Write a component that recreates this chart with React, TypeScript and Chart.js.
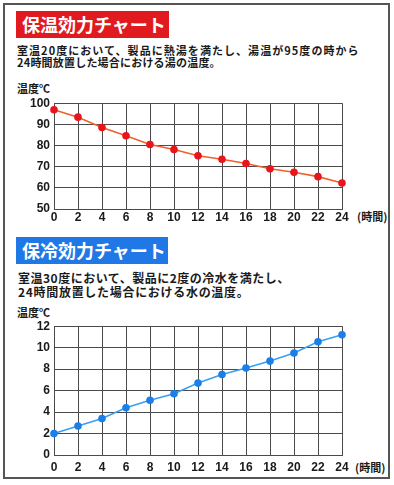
import React, { useEffect, useRef } from "react";
import { Chart, registerables } from "chart.js";

Chart.register(...registerables);

const hours = ["0", "2", "4", "6", "8", "10", "12", "14", "16", "18", "20", "22", "24"];
const hotWaterTemps = [96.9, 93.4, 88.5, 84.6, 80.5, 78.1, 75.2, 73.5, 71.5, 69.0, 67.4, 65.3, 62.3];
const coldWaterTemps = [2.0, 2.7, 3.4, 4.4, 5.1, 5.7, 6.7, 7.5, 8.1, 8.75, 9.5, 10.55, 11.2];

const hotTitle = "保温効力チャート";
const hotText1 = "室温20度において、製品に熱湯を満たし、湯温が95度の時から";
const hotText2 = "24時間放置した場合における湯の温度。";
const coldTitle = "保冷効力チャート";
const coldText1 = "室温30度において、製品に2度の冷水を満たし、";
const coldText2 = "24時間放置した場合における水の温度。";
const yUnit = "温度℃";
const xUnit = "(時間)";

const tickFont = { family: "'Liberation Sans', Arial, sans-serif", weight: "bold" as const, size: 12 };
const cjk = "'Noto Sans CJK JP', 'Noto Sans', sans-serif";

type ChartProps = {
  values: number[];
  min: number;
  max: number;
  step: number;
  major: number;
  lineColor: string;
  pointColor: string;
  top: number;
  height: number;
  padTop: number;
  xHeight: number;
  xPad: number;
};

function LineChart(p: ChartProps) {
  const ref = useRef<HTMLCanvasElement | null>(null);
  useEffect(() => {
    if (!ref.current) return;
    const isMajor = (v: number) => Math.abs(v % p.major) < 1e-6;
    const chart = new Chart(ref.current, {
      type: "line",
      data: {
        labels: hours,
        datasets: [
          {
            data: p.values,
            borderColor: p.lineColor,
            borderWidth: 1.6,
            pointBackgroundColor: p.pointColor,
            pointBorderColor: p.pointColor,
            pointBorderWidth: 0,
            pointRadius: 3.8,
            tension: 0,
          },
        ],
      },
      options: {
        responsive: false,
        animation: false,
        events: [],
        layout: { padding: { top: p.padTop, right: 52, left: 0, bottom: 0 } },
        plugins: { legend: { display: false }, tooltip: { enabled: false } },
        scales: {
          x: {
            type: "category",
            offset: false,
            afterFit: (s: any) => {
              s.height = p.xHeight;
            },
            grid: { color: "#4a4a4a", lineWidth: 1, drawTicks: false },
            border: { color: "#4a4a4a", width: 1 },
            ticks: { font: tickFont, color: "#1a1a1a", padding: p.xPad, maxRotation: 0, autoSkip: false },
          },
          y: {
            type: "linear",
            min: p.min,
            max: p.max,
            afterFit: (s: any) => {
              s.width = 54;
            },
            grid: {
              drawTicks: false,
              lineWidth: 1,
              color: (ctx: any) => (ctx.tick && !isMajor(ctx.tick.value) ? "#909090" : "#4a4a4a"),
            },
            border: {
              color: "#4a4a4a",
              width: 1,
              dash: (ctx: any) => (ctx.tick && !isMajor(ctx.tick.value) ? [6, 6] : []),
            },
            ticks: {
              stepSize: p.step,
              font: tickFont,
              color: "#1a1a1a",
              padding: 4,
              callback: (v: any) => (isMajor(Number(v)) ? String(v) : ""),
            },
          },
        },
      } as any,
    });
    return () => chart.destroy();
  }, []);
  return (
    <canvas
      ref={ref}
      width={394}
      height={p.height}
      style={{ position: "absolute", left: 0, top: p.top, width: 394, height: p.height }}
    />
  );
}

const abs = (left: number, top: number, extra: React.CSSProperties = {}): React.CSSProperties => ({
  position: "absolute",
  left,
  top,
  whiteSpace: "nowrap",
  fontFamily: cjk,
  fontWeight: 700,
  color: "#1a1a1a",
  ...extra,
});

export default function App() {
  return (
    <div style={{ position: "absolute", left: 0, top: 0, width: 394, height: 485, background: "#fff", overflow: "hidden" }}>
      <div
        style={{
          position: "absolute",
          left: 3,
          top: 3,
          width: 387,
          height: 476,
          border: "2px solid #555",
          boxSizing: "border-box",
        }}
      />
      {/* Hot section */}
      <div
        style={abs(16, 11, {
          width: 153,
          height: 27,
          background: "#e01a1f",
          color: "#fff",
          fontSize: 18,
          lineHeight: "27px",
          paddingLeft: 6,
          boxSizing: "border-box",
          letterSpacing: 0,
        })}
      >
        {hotTitle}
      </div>
      <div style={abs(17, 44, { fontSize: 11, lineHeight: "12px", letterSpacing: 1.05 })}>{hotText1}</div>
      <div style={abs(17, 56, { fontSize: 11, lineHeight: "12px", letterSpacing: 0.2 })}>{hotText2}</div>
      <div style={abs(17, 81, { fontSize: 11, lineHeight: "14px" })}>{yUnit}</div>
      <div style={abs(357, 209, { fontSize: 11, lineHeight: "14px" })}>{xUnit}</div>
      <LineChart
        values={hotWaterTemps}
        min={50}
        max={100}
        step={5}
        major={10}
        lineColor="#f0602a"
        pointColor="#e8151d"
        top={92}
        height={135}
        padTop={10}
        xHeight={18}
        xPad={1}
      />
      {/* Cold section */}
      <div
        style={abs(16, 237, {
          width: 152,
          height: 27,
          background: "#1f78e6",
          color: "#fff",
          fontSize: 18,
          lineHeight: "27px",
          paddingLeft: 6,
          boxSizing: "border-box",
        })}
      >
        {coldTitle}
      </div>
      <div style={abs(18, 271, { fontSize: 12, lineHeight: "14px", letterSpacing: 0.5 })}>{coldText1}</div>
      <div style={abs(18, 285, { fontSize: 12, lineHeight: "14px", letterSpacing: 0.7 })}>{coldText2}</div>
      <div style={abs(17, 305, { fontSize: 11, lineHeight: "14px" })}>{yUnit}</div>
      <div style={abs(355, 460, { fontSize: 11, lineHeight: "14px" })}>{xUnit}</div>
      <LineChart
        values={coldWaterTemps}
        min={0}
        max={12}
        step={1}
        major={2}
        lineColor="#3b9ff0"
        pointColor="#1b7fea"
        top={315}
        height={170}
        padTop={10}
        xHeight={30}
        xPad={5}
      />
    </div>
  );
}
